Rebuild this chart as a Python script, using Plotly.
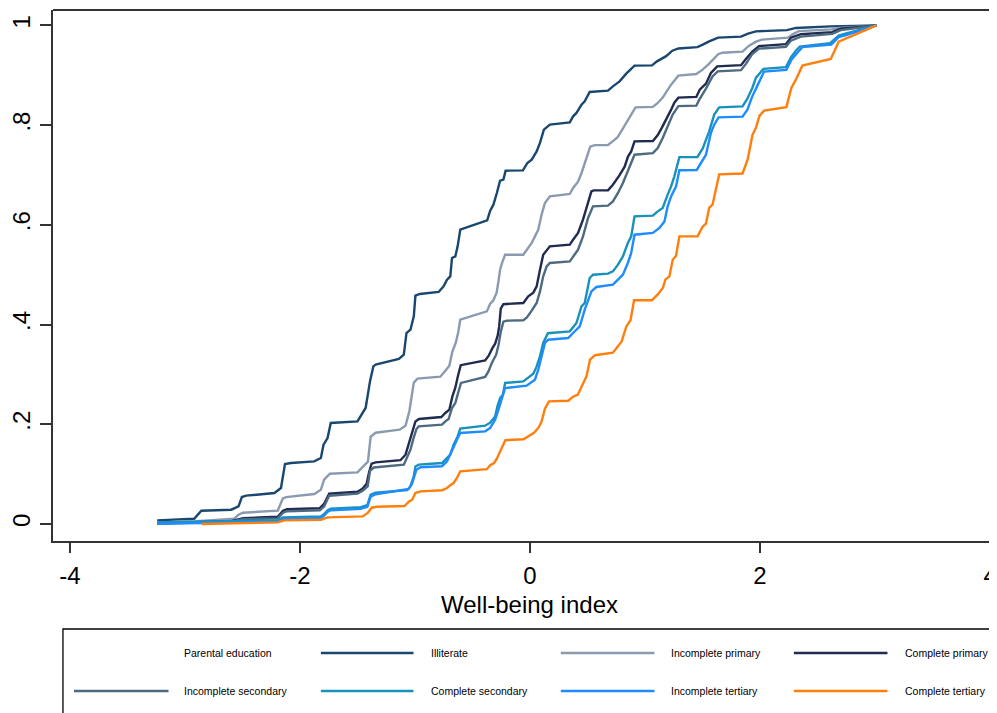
import plotly.graph_objects as go

# ---------------- data ----------------
series_names = ["Illiterate", "Incomplete primary", "Complete primary",
                "Incomplete secondary", "Complete secondary",
                "Incomplete tertiary", "Complete tertiary"]

illiterate_x = [-3.241, -2.920, -2.857, -2.597, -2.534, -2.505, -2.468, -2.222, -2.165, -2.130,
                -2.078, -1.876, -1.818, -1.795, -1.760, -1.732, -1.500, -1.472, -1.429, -1.391,
                -1.362, -1.342, -1.140, -1.097, -1.074, -1.039, -1.010, -0.996, -0.958, -0.794,
                -0.751, -0.721, -0.693, -0.678, -0.649, -0.629, -0.606, -0.563, -0.372, -0.346,
                -0.318, -0.288, -0.260, -0.231, -0.212, -0.061, -0.023, 0.015, 0.058, 0.087,
                0.121, 0.173, 0.346, 0.375, 0.404, 0.448, 0.476, 0.519, 0.678, 0.721,
                0.779, 0.837, 0.909, 1.061, 1.104, 1.184, 1.238, 1.290, 1.455, 1.502,
                1.558, 1.636, 1.835, 1.896, 1.965, 2.234, 2.312, 2.615, 3.013]
illiterate_y = [0.0072, 0.0106, 0.0267, 0.0287, 0.0353, 0.0542, 0.0568, 0.0622, 0.0722, 0.1204,
                0.1224, 0.1256, 0.1324, 0.1591, 0.1725, 0.2026, 0.2058, 0.2158, 0.2327, 0.2861,
                0.3161, 0.3196, 0.3310, 0.3396, 0.3831, 0.3898, 0.4164, 0.4580, 0.4614, 0.4654,
                0.4766, 0.4901, 0.4967, 0.5336, 0.5368, 0.5569, 0.5904, 0.5938, 0.6090, 0.6285,
                0.6405, 0.6640, 0.6887, 0.6907, 0.7087, 0.7093, 0.7242, 0.7308, 0.7474, 0.7643,
                0.7910, 0.8010, 0.8056, 0.8177, 0.8245, 0.8411, 0.8477, 0.8666, 0.8692, 0.8778,
                0.8879, 0.9033, 0.9194, 0.9200, 0.9280, 0.9384, 0.9494, 0.9539, 0.9565, 0.9615,
                0.9681, 0.9755, 0.9775, 0.9836, 0.9882, 0.9906, 0.9950, 0.9982, 1.0]

inc_primary_x = [-3.241, -2.900, -2.571, -2.534, -2.496, -2.193, -2.150, -2.121, -1.876, -1.818,
                 -1.790, -1.740, -1.500, -1.472, -1.409, -1.385, -1.342, -1.134, -1.082, -1.048,
                 -1.010, -0.978, -0.779, -0.736, -0.701, -0.675, -0.645, -0.623, -0.606, -0.375,
                 -0.346, -0.320, -0.290, -0.273, -0.260, -0.242, -0.216, -0.058, -0.015, 0.015,
                 0.043, 0.072, 0.101, 0.130, 0.173, 0.346, 0.375, 0.418, 0.448, 0.468,
                 0.498, 0.524, 0.563, 0.678, 0.721, 0.762, 0.797, 0.835, 0.880, 0.918,
                 1.068, 1.111, 1.154, 1.184, 1.227, 1.290, 1.446, 1.501, 1.558, 1.636,
                 1.674, 1.848, 1.905, 1.965, 2.017, 2.242, 2.294, 2.338, 2.623, 2.684, 3.013]
inc_primary_y = [0.0032, 0.0056, 0.0106, 0.0187, 0.0227, 0.0267, 0.0508, 0.0538, 0.0602, 0.0688,
                 0.0889, 0.1009, 0.1035, 0.1103, 0.1250, 0.1751, 0.1831, 0.1892, 0.1972, 0.2273,
                 0.2835, 0.2915, 0.2955, 0.3075, 0.3176, 0.3456, 0.3637, 0.3858, 0.4098, 0.4265,
                 0.4419, 0.4479, 0.4640, 0.4881, 0.5101, 0.5242, 0.5402, 0.5402, 0.5537, 0.5637,
                 0.5769, 0.5904, 0.6205, 0.6439, 0.6572, 0.6620, 0.6740, 0.6867, 0.7041, 0.7188,
                 0.7368, 0.7569, 0.7599, 0.7603, 0.7679, 0.7759, 0.7890, 0.8050, 0.8211, 0.8357,
                 0.8367, 0.8445, 0.8552, 0.8662, 0.8812, 0.8993, 0.9027, 0.9113, 0.9234, 0.9424,
                 0.9454, 0.9474, 0.9595, 0.9675, 0.9715, 0.9755, 0.9836, 0.9886, 0.9922, 0.9950, 1.0]

com_primary_x = [-3.241, -2.597, -2.494, -2.193, -2.147, -2.113, -1.827, -1.790, -1.746, -1.500,
                 -1.457, -1.420, -1.398, -1.377, -1.342, -1.126, -1.082, -1.061, -1.024, -0.996,
                 -0.965, -0.771, -0.736, -0.701, -0.675, -0.649, -0.628, -0.602, -0.390, -0.359,
                 -0.329, -0.303, -0.281, -0.268, -0.254, -0.231, -0.058, -0.015, 0.029, 0.058,
                 0.087, 0.115, 0.173, 0.346, 0.375, 0.418, 0.461, 0.505, 0.534, 0.554,
                 0.678, 0.721, 0.779, 0.823, 0.853, 0.880, 0.909, 1.069, 1.111, 1.147,
                 1.184, 1.227, 1.255, 1.290, 1.446, 1.476, 1.530, 1.573, 1.628, 1.835,
                 1.879, 1.933, 1.991, 2.225, 2.268, 2.355, 2.628, 2.701, 3.013]
com_primary_y = [0.0016, 0.0056, 0.0116, 0.0146, 0.0267, 0.0297, 0.0317, 0.0407, 0.0608, 0.0648,
                 0.0708, 0.0808, 0.1049, 0.1210, 0.1236, 0.1280, 0.1390, 0.1551, 0.1858, 0.2058,
                 0.2106, 0.2146, 0.2227, 0.2293, 0.2554, 0.2734, 0.2955, 0.3186, 0.3282, 0.3376,
                 0.3517, 0.3617, 0.3777, 0.3958, 0.4319, 0.4409, 0.4433, 0.4566, 0.4640, 0.4766,
                 0.5101, 0.5402, 0.5569, 0.5603, 0.5703, 0.5838, 0.6104, 0.6471, 0.6672, 0.6692,
                 0.6692, 0.6806, 0.6997, 0.7168, 0.7374, 0.7474, 0.7675, 0.7683, 0.7800, 0.7950,
                 0.8110, 0.8311, 0.8451, 0.8552, 0.8566, 0.8712, 0.8833, 0.9047, 0.9180, 0.9204,
                 0.9334, 0.9474, 0.9585, 0.9625, 0.9755, 0.9825, 0.9866, 0.9936, 1.0]

inc_secondary_x = [-3.241, -2.597, -2.494, -2.193, -2.147, -2.113, -1.827, -1.790, -1.746, -1.500,
                   -1.455, -1.411, -1.391, -1.357, -1.097, -1.068, -1.039, -1.016, -0.987, -0.967,
                   -0.765, -0.736, -0.707, -0.678, -0.649, -0.629, -0.600, -0.390, -0.361, -0.332,
                   -0.294, -0.273, -0.254, -0.231, -0.202, -0.058, -0.029, 0.009, 0.058, 0.087,
                   0.115, 0.145, 0.173, 0.346, 0.375, 0.418, 0.461, 0.505, 0.548, 0.678,
                   0.721, 0.765, 0.808, 0.840, 0.866, 0.909, 1.068, 1.111, 1.154, 1.197,
                   1.241, 1.290, 1.446, 1.472, 1.530, 1.587, 1.632, 1.835, 1.879, 1.933,
                   1.991, 2.225, 2.268, 2.355, 2.628, 2.701, 3.013]
inc_secondary_y = [0.0010, 0.0046, 0.0096, 0.0112, 0.0227, 0.0257, 0.0277, 0.0353, 0.0568, 0.0608,
                   0.0668, 0.0754, 0.1069, 0.1133, 0.1190, 0.1356, 0.1490, 0.1691, 0.1906, 0.1958,
                   0.1992, 0.2058, 0.2106, 0.2327, 0.2427, 0.2594, 0.2829, 0.2949, 0.3061, 0.3230,
                   0.3396, 0.3597, 0.3858, 0.4058, 0.4078, 0.4088, 0.4138, 0.4259, 0.4433, 0.4666,
                   0.4967, 0.5167, 0.5236, 0.5268, 0.5368, 0.5502, 0.5769, 0.6138, 0.6371, 0.6385,
                   0.6471, 0.6640, 0.6841, 0.7027, 0.7188, 0.7408, 0.7438, 0.7543, 0.7743, 0.7976,
                   0.8211, 0.8381, 0.8391, 0.8512, 0.8732, 0.8979, 0.9079, 0.9103, 0.9234, 0.9428,
                   0.9535, 0.9571, 0.9695, 0.9775, 0.9831, 0.9906, 1.0]

com_secondary_x = [-3.241, -2.857, -2.511, -2.193, -2.150, -1.818, -1.790, -1.758, -1.732, -1.472,
                   -1.414, -1.385, -1.342, -1.068, -1.039, -1.010, -0.996, -0.967, -0.765, -0.736,
                   -0.693, -0.664, -0.629, -0.606, -0.390, -0.346, -0.303, -0.283, -0.260, -0.236,
                   -0.216, -0.058, -0.015, 0.029, 0.058, 0.087, 0.115, 0.156, 0.346, 0.404,
                   0.448, 0.476, 0.519, 0.548, 0.678, 0.721, 0.765, 0.808, 0.851, 0.880,
                   0.909, 1.068, 1.111, 1.154, 1.197, 1.227, 1.255, 1.299, 1.455, 1.501,
                   1.558, 1.602, 1.645, 1.848, 1.890, 1.933, 1.965, 2.030, 2.225, 2.273,
                   2.312, 2.346, 2.610, 2.684, 2.742, 3.013]
com_secondary_y = [0.0030, 0.0042, 0.0056, 0.0076, 0.0130, 0.0150, 0.0197, 0.0277, 0.0307, 0.0337,
                   0.0377, 0.0588, 0.0628, 0.0678, 0.0758, 0.0959, 0.1155, 0.1190, 0.1224, 0.1290,
                   0.1390, 0.1591, 0.1757, 0.1912, 0.1972, 0.2032, 0.2158, 0.2359, 0.2528, 0.2594,
                   0.2829, 0.2861, 0.2929, 0.3015, 0.3161, 0.3362, 0.3631, 0.3827, 0.3864, 0.4032,
                   0.4365, 0.4433, 0.4935, 0.5001, 0.5021, 0.5067, 0.5202, 0.5368, 0.5637, 0.5769,
                   0.6170, 0.6185, 0.6271, 0.6339, 0.6606, 0.6772, 0.6973, 0.7358, 0.7358, 0.7529,
                   0.7876, 0.8211, 0.8357, 0.8377, 0.8531, 0.8746, 0.8953, 0.9129, 0.9163, 0.9374,
                   0.9494, 0.9575, 0.9645, 0.9795, 0.9836, 1.0]

inc_tertiary_x = [-3.241, -2.857, -2.511, -2.193, -2.150, -1.818, -1.790, -1.758, -1.732, -1.472,
                  -1.414, -1.385, -1.342, -1.054, -1.026, -1.004, -0.987, -0.952, -0.765, -0.721,
                  -0.678, -0.635, -0.606, -0.390, -0.346, -0.303, -0.274, -0.245, -0.216, -0.029,
                  0.000, 0.043, 0.072, 0.101, 0.130, 0.158, 0.332, 0.375, 0.433, 0.476,
                  0.505, 0.534, 0.577, 0.721, 0.765, 0.808, 0.851, 0.880, 0.909, 1.068,
                  1.126, 1.169, 1.197, 1.227, 1.270, 1.299, 1.450, 1.487, 1.530, 1.573,
                  1.602, 1.639, 1.848, 1.890, 1.933, 1.974, 2.035, 2.229, 2.273, 2.325,
                  2.368, 2.619, 2.684, 2.742, 3.013]
inc_tertiary_y = [0.0006, 0.0016, 0.0026, 0.0046, 0.0096, 0.0120, 0.0166, 0.0247, 0.0277, 0.0307,
                  0.0347, 0.0548, 0.0598, 0.0702, 0.0808, 0.0955, 0.1089, 0.1139, 0.1159, 0.1256,
                  0.1490, 0.1691, 0.1825, 0.1858, 0.1926, 0.2092, 0.2293, 0.2493, 0.2728, 0.2774,
                  0.2829, 0.2895, 0.3095, 0.3396, 0.3631, 0.3697, 0.3731, 0.3831, 0.3964, 0.4299,
                  0.4500, 0.4666, 0.4754, 0.4800, 0.4901, 0.5001, 0.5236, 0.5436, 0.5803, 0.5838,
                  0.5938, 0.6070, 0.6371, 0.6572, 0.6772, 0.7097, 0.7101, 0.7242, 0.7408, 0.7844,
                  0.8010, 0.8157, 0.8171, 0.8311, 0.8578, 0.8778, 0.9073, 0.9107, 0.9314, 0.9454,
                  0.9565, 0.9615, 0.9765, 0.9801, 1.0]

com_tertiary_x = [-2.857, -2.193, -2.136, -1.818, -1.760, -1.455, -1.411, -1.377, -1.333, -1.091,
                  -1.054, -1.024, -0.996, -0.952, -0.762, -0.721, -0.693, -0.664, -0.635, -0.606,
                  -0.375, -0.346, -0.312, -0.288, -0.260, -0.234, -0.214, -0.056, -0.009, 0.035,
                  0.074, 0.100, 0.130, 0.165, 0.333, 0.375, 0.416, 0.450, 0.491, 0.522,
                  0.565, 0.721, 0.766, 0.797, 0.837, 0.874, 0.905, 1.061, 1.113, 1.156,
                  1.177, 1.212, 1.241, 1.270, 1.299, 1.457, 1.501, 1.530, 1.558, 1.587,
                  1.645, 1.848, 1.892, 1.935, 1.965, 1.996, 2.035, 2.229, 2.273, 2.312,
                  2.368, 2.615, 2.684, 3.013]
com_tertiary_y = [0.0000, 0.0032, 0.0072, 0.0086, 0.0132, 0.0152, 0.0221, 0.0327, 0.0347, 0.0361,
                  0.0447, 0.0487, 0.0622, 0.0654, 0.0678, 0.0722, 0.0778, 0.0822, 0.0923, 0.1055,
                  0.1099, 0.1180, 0.1224, 0.1310, 0.1456, 0.1591, 0.1681, 0.1701, 0.1771, 0.1831,
                  0.1932, 0.2052, 0.2313, 0.2459, 0.2473, 0.2554, 0.2594, 0.2754, 0.2961, 0.3296,
                  0.3386, 0.3436, 0.3567, 0.3663, 0.3958, 0.4088, 0.4489, 0.4489, 0.4610, 0.4740,
                  0.4901, 0.4967, 0.5302, 0.5382, 0.5769, 0.5769, 0.5964, 0.6024, 0.6339, 0.6405,
                  0.7013, 0.7031, 0.7308, 0.7809, 0.7950, 0.8191, 0.8291, 0.8361, 0.8752, 0.8913,
                  0.9194, 0.9328, 0.9675, 1.0]

x_tick_vals = [-4, -2, 0, 2, 4]
x_tick_text = ["-4", "-2", "0", "2", "4"]
y_tick_vals = [0, 0.2, 0.4, 0.6, 0.8, 1]
y_tick_text = ["0", ".2", ".4", ".6", ".8", "1"]
x_title = "Well-being index"
legend_title = "Parental education"

# ---------------- styling ----------------
colors = ["#1a476f", "#8a9bb0", "#1f2b4f", "#4d6a80", "#1892b9", "#1e8cff", "#ff7f0e"]
series_x = [illiterate_x, inc_primary_x, com_primary_x, inc_secondary_x,
            com_secondary_x, inc_tertiary_x, com_tertiary_x]
series_y = [illiterate_y, inc_primary_y, com_primary_y, inc_secondary_y,
            com_secondary_y, inc_tertiary_y, com_tertiary_y]

FONT = "Liberation Sans, Arial, Helvetica, sans-serif"
OFF = 8                      # page body margin of the browser
W, H = 997 - OFF, 713 - OFF
# page-pixel geometry of the plot area: left 51, top 10, right 997, bottom 541
ML, MT = 51 - OFF, 10 - OFF
MR = 0
MB = H - (541 - OFF)
PW, PH = W - ML - MR, H - MT - MB

fig = go.Figure()
for name, xs, ys, c in zip(series_names, series_x, series_y, colors):
    fig.add_trace(go.Scatter(x=xs, y=ys, mode="lines", name=name,
                             line=dict(color=c, width=2.4), showlegend=False))

axis_color = "#333333"
fig.update_xaxes(range=[-4.147, 4.043], tickvals=x_tick_vals, ticktext=x_tick_text,
                 ticks="outside", ticklen=10, tickwidth=1.5, tickcolor=axis_color,
                 showline=True, linecolor=axis_color, linewidth=2, showgrid=False,
                 zeroline=False, tickfont=dict(size=24, color="black", family=FONT),
                 ticklabelstandoff=2, ticklabeloverflow="allow")
fig.update_yaxes(range=[-0.0341, 1.031], tickvals=y_tick_vals, ticktext=y_tick_text,
                 ticks="outside", ticklen=11, tickwidth=1.5, tickcolor=axis_color,
                 showline=True, linecolor=axis_color, linewidth=2, showgrid=False,
                 zeroline=False, tickangle=-90,
                 tickfont=dict(size=24, color="black", family=FONT),
                 ticklabelstandoff=0)

def px_x(p):
    # page pixel -> paper fraction
    return (p - OFF - ML) / PW

def px_y(p):
    return (H - MB - (p - OFF)) / PH

shapes = [
    # top frame line
    dict(type="line", xref="paper", yref="paper", x0=0, x1=1.01, y0=1, y1=1,
         line=dict(color=axis_color, width=2)),
    # legend box
    dict(type="rect", xref="paper", yref="paper", x0=px_x(61), x1=px_x(1010),
         y0=px_y(629), y1=px_y(740), line=dict(color="black", width=1.3),
         fillcolor="rgba(0,0,0,0)"),
]
annotations = [
    dict(text=x_title, xref="x", yref="paper", x=0, y=px_y(604), showarrow=False,
         xanchor="center", yanchor="middle", font=dict(size=24, color="black", family=FONT)),
]

# manual legend (grid of 4 columns x 2 rows, first cell holds the title)
col_line = [(72, 167), (320, 413), (561, 655), (795, 889)]
col_text = [181, 429, 670, 905]
row_y = [653, 691]
cells = [(0, 0, legend_title, None)]
for i, (name, c) in enumerate(zip(series_names, colors)):
    k = i + 1
    cells.append((k // 4, k % 4, name, c))
for r, cidx, label, c in cells:
    yy = px_y(row_y[r])
    if c is not None:
        x0, x1 = col_line[cidx]
        shapes.append(dict(type="line", xref="paper", yref="paper",
                           x0=px_x(x0), x1=px_x(x1), y0=yy, y1=yy,
                           line=dict(color=c, width=2.4)))
    annotations.append(dict(text=label, xref="paper", yref="paper", x=px_x(col_text[cidx]),
                            y=yy, showarrow=False, xanchor="left", yanchor="middle",
                            font=dict(size=10.5, color="black", family=FONT)))

fig.update_layout(width=W, height=H, margin=dict(l=ML, r=MR, t=MT, b=MB, pad=0),
                  paper_bgcolor="white", plot_bgcolor="white",
                  shapes=shapes, annotations=annotations, showlegend=False,
                  font=dict(family=FONT))

fig.write_html("out.html")
